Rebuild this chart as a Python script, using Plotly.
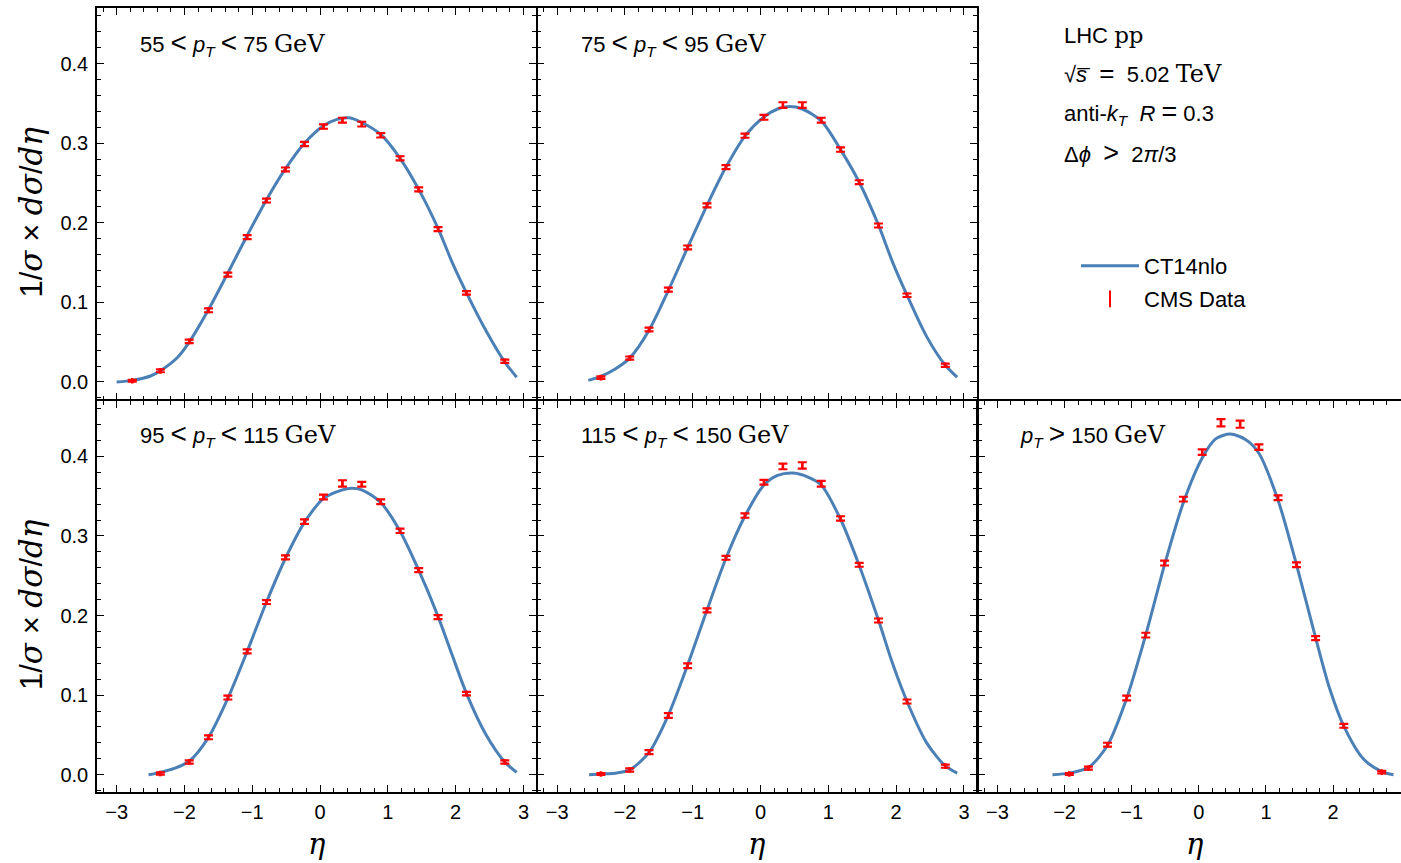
import plotly.graph_objects as go

# ---------------- data ----------------
eta_bins = [-2.77, -2.355, -1.93, -1.645, -1.36, -1.075, -0.79, -0.51, -0.23,
            0.05, 0.33, 0.615, 0.895, 1.18, 1.455, 1.74, 2.16, 2.725]

# CMS data (normalised dijet pseudorapidity distributions)
data1_x = eta_bins
data1_y = [0.0015, 0.014, 0.051, 0.090, 0.135, 0.182, 0.228, 0.267, 0.299,
           0.321, 0.329, 0.324, 0.310, 0.281, 0.242, 0.192, 0.112, 0.026]
data1_err = [0.0012, 0.0018, 0.0022, 0.0024, 0.0025, 0.0025, 0.0025, 0.0025, 0.0026,
             0.0028, 0.0030, 0.0030, 0.0028, 0.0026, 0.0025, 0.0025, 0.0022, 0.0020]

data2_x = eta_bins[1:]
data2_y = [0.0055, 0.030, 0.066, 0.116, 0.169, 0.222, 0.270, 0.3095, 0.3325,
           0.348, 0.348, 0.329, 0.292, 0.251, 0.1966, 0.109, 0.021]
data2_err = [0.0015, 0.0020, 0.0024, 0.0025, 0.0025, 0.0025, 0.0025, 0.0026, 0.0030,
             0.0035, 0.0035, 0.0030, 0.0027, 0.0025, 0.0025, 0.0022, 0.0020]

data3_x = eta_bins[1:]
data3_y = [0.0015, 0.016, 0.047, 0.097, 0.155, 0.217, 0.273, 0.318, 0.349,
           0.366, 0.365, 0.343, 0.3065, 0.257, 0.198, 0.102, 0.016]
data3_err = [0.0015, 0.0020, 0.0024, 0.0025, 0.0025, 0.0025, 0.0025, 0.0028, 0.0030,
             0.0040, 0.0030, 0.0030, 0.0028, 0.0025, 0.0025, 0.0022, 0.0020]

data4_x = eta_bins[1:]
data4_y = [0.001, 0.006, 0.0284, 0.0745, 0.137, 0.2064, 0.2726, 0.3257, 0.3676,
           0.3873, 0.3886, 0.3656, 0.322, 0.2638, 0.1938, 0.092, 0.0108]
data4_err = [0.0012, 0.0020, 0.0025, 0.0030, 0.0030, 0.0025, 0.0025, 0.0028, 0.0030,
             0.0035, 0.0040, 0.0035, 0.0028, 0.0025, 0.0025, 0.0025, 0.0020]

data5_x = eta_bins[2:]
data5_y = [0.001, 0.0083, 0.0377, 0.0963, 0.1754, 0.2659, 0.3463, 0.4053,
           0.4422, 0.4405, 0.4116, 0.348, 0.2638, 0.1716, 0.0615, 0.0033]
data5_err = [0.0012, 0.0020, 0.0025, 0.0030, 0.0030, 0.0030, 0.0030, 0.0035,
             0.0045, 0.0045, 0.0035, 0.0030, 0.0030, 0.0025, 0.0025, 0.0015]

# CT14nlo theory curves
th1_x = [-3.0, -2.77, -2.5, -2.355, -2.1, -1.93, -1.645, -1.36, -1.075, -0.79, -0.51, -0.23,
         0.05, 0.25, 0.43, 0.615, 0.895, 1.18, 1.455, 1.74, 1.95, 2.16, 2.45, 2.725, 2.9]
th1_y = [0.0, 0.002, 0.0075, 0.014, 0.031, 0.050, 0.091, 0.137, 0.184, 0.229, 0.268, 0.300,
         0.322, 0.330, 0.332, 0.326, 0.311, 0.281, 0.242, 0.193, 0.150, 0.112, 0.064, 0.025, 0.006]

th2_x = [-2.54, -2.355, -2.15, -1.93, -1.645, -1.36, -1.075, -0.79, -0.51, -0.23, 0.05,
         0.25, 0.42, 0.615, 0.895, 1.18, 1.455, 1.74, 1.95, 2.16, 2.45, 2.725, 2.9]
th2_y = [0.002, 0.007, 0.016, 0.030, 0.065, 0.115, 0.169, 0.222, 0.270, 0.309, 0.333,
         0.343, 0.346, 0.343, 0.328, 0.292, 0.251, 0.197, 0.150, 0.109, 0.057, 0.021, 0.006]

th3_x = [-2.53, -2.355, -2.15, -1.93, -1.645, -1.36, -1.075, -0.79, -0.51, -0.23, 0.05,
         0.33, 0.46, 0.615, 0.895, 1.18, 1.455, 1.74, 1.95, 2.16, 2.45, 2.725, 2.9]
th3_y = [0.0, 0.003, 0.008, 0.017, 0.047, 0.096, 0.155, 0.217, 0.272, 0.317, 0.347,
         0.358, 0.360, 0.358, 0.342, 0.306, 0.257, 0.199, 0.150, 0.102, 0.050, 0.016, 0.003]

th4_x = [-2.53, -2.355, -2.15, -1.93, -1.645, -1.36, -1.075, -0.79, -0.51, -0.23, 0.05,
         0.25, 0.48, 0.70, 0.895, 1.18, 1.455, 1.74, 1.95, 2.16, 2.45, 2.725, 2.9]
th4_y = [0.0, 0.001, 0.002, 0.006, 0.028, 0.075, 0.138, 0.207, 0.272, 0.325, 0.364,
         0.376, 0.379, 0.374, 0.364, 0.321, 0.263, 0.194, 0.139, 0.092, 0.040, 0.011, 0.002]

th5_x = [-2.18, -1.93, -1.645, -1.36, -1.075, -0.79, -0.51, -0.23, 0.05, 0.25, 0.47,
         0.70, 0.895, 1.18, 1.455, 1.74, 1.95, 2.16, 2.45, 2.725, 2.9]
th5_y = [0.0, 0.002, 0.009, 0.037, 0.096, 0.176, 0.264, 0.342, 0.398, 0.422, 0.428,
         0.421, 0.404, 0.345, 0.264, 0.172, 0.108, 0.061, 0.020, 0.004, 0.0]

legend_names = ["CT14nlo", "CMS Data"]

# ---------------- text ----------------
SANS = "Liberation Sans"
SERIF = "DejaVu Serif"


def rm(s, size=24):
    return f"<span style='font-family:{SERIF};font-size:{size}px'>{s}</span>"


def rel(s, size=28):
    return f"<span style='font-size:{size}px'>{s}</span>"


PT = "<i>p</i><sub><i>T</i></sub>"
panel_labels = [
    f"55 {rel('&lt;')} {PT} {rel('&lt;')} 75 {rm('GeV')}",
    f"75 {rel('&lt;')} {PT} {rel('&lt;')} 95 {rm('GeV')}",
    f"95 {rel('&lt;')} {PT} {rel('&lt;')} 115 {rm('GeV')}",
    f"115 {rel('&lt;')} {PT} {rel('&lt;')} 150 {rm('GeV')}",
    f"{PT} {rel('&gt;')} 150 {rm('GeV')}",
]

info_lines = [
    f"LHC {rm('pp', 23)}",
    f"√<i>s\u0305</i>  {rel('=', 26)}  5.02 {rm('TeV', 24)}",
    f"anti-<i>k</i><sub><i>T</i></sub>  <i>R</i> {rel('=', 27)} 0.3",
    f"Δ<i>ϕ</i>  {rel('&gt;', 27)}  2<i>π</i>/3",
]


def it(s):
    return f"<span style='font-family:{SERIF}'><i>{s}</i></span>"


y_title = f"1/{it('σ')} × {it('dσ')}/{it('dη')}"
x_title = "<i>η</i>"

# ---------------- styling ----------------
LINE_COLOR = "#4a80b6"
DATA_COLOR = "#ff0000"

W, H = 1401, 863
ML, MT, MB = 97, 8, 71
plot_w = W - ML
plot_h = H - MT - MB


def fx(p):
    return (p - ML) / plot_w


def fy(p):
    return 1 - (p - MT) / plot_h


col_dom = [[0.0, fx(536)], [fx(537.5), fx(976.5)], [fx(978), 1.0]]
row_dom = [[fy(399.25), 1.0], [0.0, fy(400.75)]]
col_centers = [316.5, 756.5, 1195]
row_centers = [212.5, 605]

panels = [
    dict(col=0, row=0, tx=th1_x, ty=th1_y, dx=data1_x, dy=data1_y, de=data1_err),
    dict(col=1, row=0, tx=th2_x, ty=th2_y, dx=data2_x, dy=data2_y, de=data2_err),
    dict(col=0, row=1, tx=th3_x, ty=th3_y, dx=data3_x, dy=data3_y, de=data3_err),
    dict(col=1, row=1, tx=th4_x, ty=th4_y, dx=data4_x, dy=data4_y, de=data4_err),
    dict(col=2, row=1, tx=th5_x, ty=th5_y, dx=data5_x, dy=data5_y, de=data5_err),
]

XR = [-3.29, 3.185]
XR5 = [-3.29, 3.012]
YR = [-0.0217, 0.4699]

fig = go.Figure()
layout = dict(
    width=W, height=H,
    margin=dict(l=ML, r=0, t=MT, b=MB, autoexpand=False),
    paper_bgcolor="white", plot_bgcolor="white",
    font=dict(family=SANS, size=20, color="black"),
    showlegend=True,
    legend=dict(x=fx(1076), y=fy(245), xanchor="left", yanchor="top",
                font=dict(size=22, family=SANS, color="black"),
                bgcolor="rgba(0,0,0,0)", borderwidth=0, itemwidth=58),
    legend2=dict(x=fx(1076), y=fy(278), xanchor="left", yanchor="top",
                 font=dict(size=22, family=SANS, color="black"),
                 bgcolor="rgba(0,0,0,0)", borderwidth=0, itemwidth=58,
                 itemsizing="constant"),
)

annotations = []
for i, p in enumerate(panels):
    n = i + 1
    xa = "x" if n == 1 else f"x{n}"
    ya = "y" if n == 1 else f"y{n}"
    fig.add_trace(go.Scatter(
        x=p["tx"], y=p["ty"], mode="lines",
        line=dict(color=LINE_COLOR, width=3, shape="spline", smoothing=0.8),
        name=legend_names[0], legend="legend", legendgroup="th", showlegend=(n == 1),
        xaxis=xa, yaxis=ya, hoverinfo="skip"))
    fig.add_trace(go.Scatter(
        x=p["dx"], y=p["dy"], mode="markers",
        marker=dict(symbol="line-ns-open", size=4, color=DATA_COLOR,
                    line=dict(color=DATA_COLOR, width=2.5)),
        error_y=dict(type="data", array=p["de"], color=DATA_COLOR, thickness=2.2, width=4.5),
        name=legend_names[1], legend="legend2", legendgroup="data", showlegend=(n == 1),
        xaxis=xa, yaxis=ya))

    bottom = p["row"] == 1
    left = p["col"] == 0
    xax = dict(
        domain=col_dom[p["col"]], anchor=ya, range=XR5 if n == 5 else XR,
        showline=True, linecolor="black", linewidth=1.5, mirror="allticks",
        ticks="inside", ticklen=7, tickwidth=1, tickcolor="black",
        tick0=0, dtick=1, showgrid=False, zeroline=False, automargin=False,
        minor=dict(ticks="inside", ticklen=4, tickwidth=1, tickcolor="black", dtick=0.2, tick0=0),
        showticklabels=bottom, tickfont=dict(size=20, family=SANS, color="black"),
        ticklabelstandoff=1,
    )
    yax = dict(
        domain=row_dom[p["row"]], anchor=xa, range=YR,
        showline=True, linecolor="black", linewidth=1.5,
        mirror=(False if n == 5 else "allticks"),
        ticks="inside", ticklen=7, tickwidth=1, tickcolor="black",
        tick0=0, dtick=0.1, tickformat=".1f", showgrid=False, zeroline=False, automargin=False,
        minor=dict(ticks="inside", ticklen=4, tickwidth=1, tickcolor="black", dtick=0.02, tick0=0),
        showticklabels=left, tickfont=dict(size=20, family=SANS, color="black"),
        ticklabelstandoff=3,
    )
    layout["xaxis" if n == 1 else f"xaxis{n}"] = xax
    layout["yaxis" if n == 1 else f"yaxis{n}"] = yax

    if bottom:
        annotations.append(dict(
            text=x_title, xref="paper", yref="paper",
            x=fx(col_centers[p["col"]]), y=fy(862), xanchor="center", yanchor="bottom",
            showarrow=False, borderpad=0, font=dict(size=29, family=SERIF, color="black")))
    if left:
        annotations.append(dict(
            text=y_title, xref="paper", yref="paper", textangle=-90,
            x=fx(31), y=fy(row_centers[p["row"]]), xanchor="center", yanchor="middle",
            showarrow=False, font=dict(size=31, family=SANS, color="black")))

    lab_y = 43 if p["row"] == 0 else 434
    row_top = 8 if p["row"] == 0 else 400.75
    annotations.append(dict(
        text=panel_labels[i], xref=f"{xa} domain", yref=f"{ya} domain",
        x=41 / 439, y=1 - (lab_y - row_top) / 391.25,
        xanchor="left", yanchor="middle", showarrow=False,
        font=dict(size=22, family=SANS, color="black")))

info_y = [35, 73, 113, 153]
for txt, yp in zip(info_lines, info_y):
    annotations.append(dict(
        text=txt, xref="paper", yref="paper", x=fx(1062), y=fy(yp),
        xanchor="left", yanchor="middle", showarrow=False,
        font=dict(size=22, family=SANS, color="black")))

layout["annotations"] = annotations
fig.update_layout(**layout)
fig.write_html("out.html", config={"displayModeBar": False},
               post_script="document.body.style.margin='0';")
